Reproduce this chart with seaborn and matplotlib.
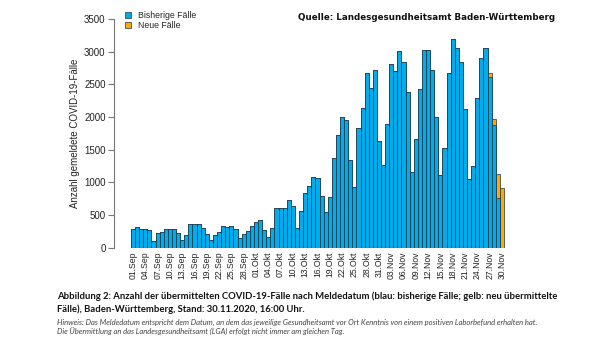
import numpy as np
import pandas as pd
import matplotlib
matplotlib.use("Agg")
import matplotlib.pyplot as plt
import matplotlib.patches as mpatches
import seaborn as sns

# ---- data -------------------------------------------------------------
months = ["Sep"] * 30 + ["Okt"] * 31 + ["Nov"] * 30
days = list(range(1, 31)) + list(range(1, 32)) + list(range(1, 31))
dates = [f"{d:02d}.{m}" for d, m in zip(days, months)]

bisherige = [
    290, 310, 290, 285, 270, 110, 225, 245, 290, 285,
    280, 225, 125, 200, 370, 360, 370, 305, 212, 122,
    195, 242, 334, 312, 326, 280, 148, 210, 260, 326,
    389, 429, 275, 164, 296, 615, 603, 603, 726, 639,
    306, 558, 836, 942, 1078, 1073, 795, 550, 770, 1376,
    1727, 1998, 1957, 1339, 930, 1829, 2135, 2666, 2442, 2718,
    1635, 1267, 1900, 2810, 2707, 3003, 2840, 2390, 1164, 1665,
    2431, 3024, 3030, 2718, 2002, 1114, 1527, 2666, 3197, 3049,
    2840, 2130, 1052, 1256, 2289, 2896, 3059, 2610, 1875, 766,
    0,
]
neue = [0] * 87 + [60, 100, 363, 910]

tick_labels = dates[::3]

df = pd.DataFrame({"Datum": dates, "Bisherige": bisherige, "Neue": neue})
df["Gesamt"] = df["Bisherige"] + df["Neue"]

BLUE = "#00ACEB"
ORANGE = "#FFA800"
EDGE = "#1F3340"

# ---- figure -----------------------------------------------------------
W, H = 608, 342
fig = plt.figure(figsize=(W / 100, H / 100), dpi=100)
sns.set_style("white")
plt.rcParams["font.family"] = ["Liberation Sans", "DejaVu Sans"]

ax = fig.add_axes([114 / W, 1 - 247.7 / H, (506 - 114) / W, (247.7 - 19) / H])

sns.barplot(data=df, x="Datum", y="Gesamt", order=dates, color=ORANGE,
            saturation=1, width=1.0, edgecolor=EDGE, linewidth=0.5, ax=ax)
sns.barplot(data=df, x="Datum", y="Bisherige", order=dates, color=BLUE,
            saturation=1, width=1.0, edgecolor=EDGE, linewidth=0.5, ax=ax)

ax.set_xlim(-4.65, 91.0)
ax.set_ylim(0, 3500)
ax.set_yticks(range(0, 3501, 500))
ax.set_xticks(range(0, 91, 3))
ax.set_xticklabels(tick_labels, rotation=90, fontsize=6.2, color="#222222")
ax.tick_params(axis="x", length=0, pad=3)
ax.tick_params(axis="y", length=4, width=0.8, color="#777777",
               labelsize=7, labelcolor="#222222", pad=2, left=True)
for s in ["top", "right", "bottom"]:
    ax.spines[s].set_visible(False)
ax.spines["left"].set_bounds(0, 3500)
ax.spines["left"].set_color("#777777")
ax.spines["left"].set_linewidth(0.8)
ax.set_xlabel("")
ax.set_ylabel("Anzahl gemeldete COVID-19-Fälle", fontsize=7, color="#222222",
              labelpad=3)
ax.grid(False)

handles = [mpatches.Patch(facecolor=BLUE, edgecolor=EDGE, linewidth=0.5),
           mpatches.Patch(facecolor=ORANGE, edgecolor=EDGE, linewidth=0.5)]
fig.legend(handles, ["Bisherige Fälle", "Neue Fälle"], loc="upper left",
           bbox_to_anchor=(119 / W, 1 - 5 / H), frameon=False, fontsize=6.3,
           handlelength=0.7, handleheight=0.7, handletextpad=0.8,
           labelspacing=0.15, borderpad=0.2)

fig.text(298 / W, 1 - 17 / H, "Quelle: Landesgesundheitsamt Baden-Württemberg",
         fontsize=6.3, fontweight="bold", family=["DejaVu Sans"],
         ha="left", va="center", color="#111111")

cap_font = ["Lato", "DejaVu Sans"]
fig.text(57 / W, 1 - 296 / H,
         "Abbildung 2: Anzahl der übermittelten COVID-19-Fälle nach Meldedatum "
         "(blau: bisherige Fälle; gelb: neu übermittelte",
         fontsize=6.85, fontweight="bold", family=cap_font, ha="left",
         va="center", color="#111111")
fig.text(57 / W, 1 - 309 / H,
         "Fälle), Baden-Württemberg, Stand: 30.11.2020, 16:00 Uhr.",
         fontsize=6.85, fontweight="bold", family=cap_font, ha="left",
         va="center", color="#111111")
fig.text(57 / W, 1 - 322 / H,
         "Hinweis: Das Meldedatum entspricht dem Datum, an dem das jeweilige "
         "Gesundheitsamt vor Ort Kenntnis von einem positiven Laborbefund erhalten hat.",
         fontsize=5.5, style="italic", family=cap_font, ha="left",
         va="center", color="#444444")
fig.text(57 / W, 1 - 331.5 / H,
         "Die Übermittlung an das Landesgesundheitsamt (LGA) erfolgt nicht immer "
         "am gleichen Tag.",
         fontsize=5.5, style="italic", family=cap_font, ha="left",
         va="center", color="#444444")

fig.savefig("out.png", dpi=100)
